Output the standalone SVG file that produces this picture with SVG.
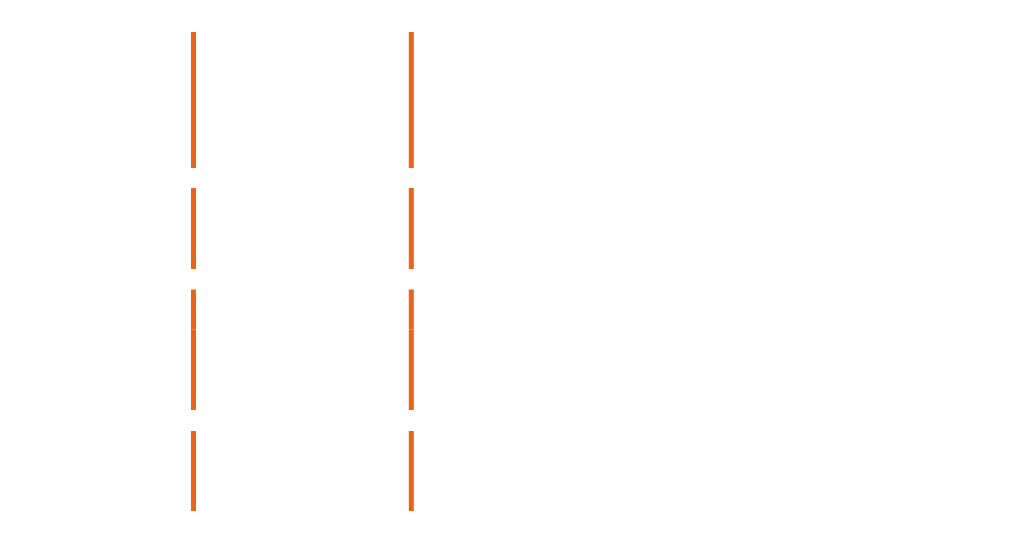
<svg xmlns="http://www.w3.org/2000/svg" width="1024" height="548" viewBox="0 0 1024 548">
<style>
.bar{stroke:#E9631A;stroke-width:5;fill:none}
</style>
<rect width="1024" height="548" fill="#ffffff"/>
<g id="connectors">
<line class="bar" x1="193.5" y1="32" x2="193.5" y2="102"/>
<line class="bar" x1="193.5" y1="102" x2="193.5" y2="168"/>
<line class="bar" x1="193.5" y1="188" x2="193.5" y2="229"/>
<line class="bar" x1="193.5" y1="229" x2="193.5" y2="269"/>
<line class="bar" x1="193.5" y1="289.5" x2="193.5" y2="329.5"/>
<line class="bar" x1="193.5" y1="329.5" x2="193.5" y2="370"/>
<line class="bar" x1="193.5" y1="370" x2="193.5" y2="410"/>
<line class="bar" x1="193.5" y1="431" x2="193.5" y2="471"/>
<line class="bar" x1="193.5" y1="471" x2="193.5" y2="511"/>
<line class="bar" x1="411.3" y1="32" x2="411.3" y2="102"/>
<line class="bar" x1="411.3" y1="102" x2="411.3" y2="168"/>
<line class="bar" x1="411.3" y1="188" x2="411.3" y2="229"/>
<line class="bar" x1="411.3" y1="229" x2="411.3" y2="269"/>
<line class="bar" x1="411.3" y1="289.5" x2="411.3" y2="329.5"/>
<line class="bar" x1="411.3" y1="329.5" x2="411.3" y2="370"/>
<line class="bar" x1="411.3" y1="370" x2="411.3" y2="410"/>
<line class="bar" x1="411.3" y1="431" x2="411.3" y2="471"/>
<line class="bar" x1="411.3" y1="471" x2="411.3" y2="511"/>
</g>
</svg>
